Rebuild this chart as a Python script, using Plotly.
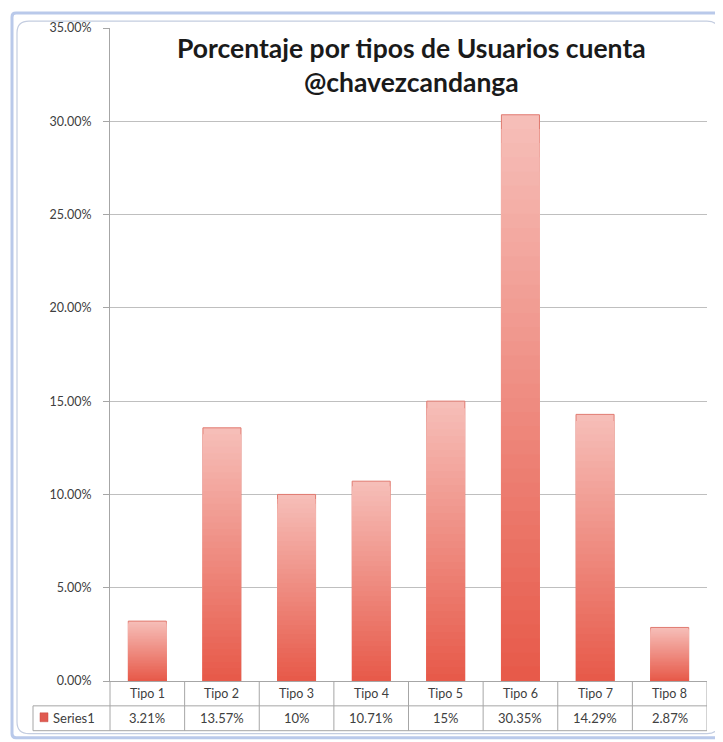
import plotly.graph_objects as go

categories = ["Tipo 1", "Tipo 2", "Tipo 3", "Tipo 4", "Tipo 5", "Tipo 6", "Tipo 7", "Tipo 8"]
values_pct = [3.21, 13.57, 10, 10.71, 15, 30.35, 14.29, 2.87]
series_name = "Series1"
title_lines = ["Porcentaje por tipos de Usuarios cuenta", "@chavezcandanga"]
y_ticks = [0, 0.05, 0.10, 0.15, 0.20, 0.25, 0.30, 0.35]

# page body has an 8px default margin; work in page pixels and offset
OFF = 8
W, H = 723 - OFF, 742 - OFF
ML, MR, MT, MB = 110 - OFF, 16, 24 - OFF, 61
PW, PH = W - ML - MR, H - MT - MB


def px_x(px):
    return (px - OFF - ML) / PW


def px_y(py):
    return (H - MB - (py - OFF)) / PH


def lerp(c1, c2, t):
    return "#%02x%02x%02x" % tuple(int(round(a + (b - a) * t)) for a, b in zip(c1, c2))


TOP = (246, 190, 184)
BOTTOM = (231, 90, 74)
N = 40

vals = [v / 100 for v in values_pct]
xs = list(range(len(categories)))

fig = go.Figure()
for k in range(N):
    frac = 1 - k / N
    t = k / (N - 1)
    fig.add_trace(go.Bar(
        x=xs, y=[v * frac for v in vals], width=0.51,
        marker=dict(color=lerp(TOP, BOTTOM, t),
                    line=dict(color="#e07a70" if k == 0 else "rgba(0,0,0,0)", width=1 if k == 0 else 0)),
        showlegend=False, hoverinfo="skip" if k else None,
        name=series_name,
    ))

shapes = []
LC = "#a6a6a6"
y_r1 = px_y(706)
y_r2 = px_y(731)
shapes.append(dict(type="line", xref="paper", yref="paper", x0=px_x(33), x1=1, y0=y_r1, y1=y_r1, line=dict(color=LC, width=1)))
shapes.append(dict(type="line", xref="paper", yref="paper", x0=px_x(33), x1=1, y0=y_r2, y1=y_r2, line=dict(color=LC, width=1)))
shapes.append(dict(type="line", xref="paper", yref="paper", x0=0, x1=0, y0=0, y1=y_r2, line=dict(color=LC, width=1)))
shapes.append(dict(type="line", xref="paper", yref="paper", x0=px_x(33), x1=px_x(33), y0=y_r1, y1=y_r2, line=dict(color=LC, width=1)))
for i in xs:
    shapes.append(dict(type="line", xref="x", yref="paper", x0=i + 0.5, x1=i + 0.5, y0=0, y1=y_r2, line=dict(color=LC, width=1)))
shapes.append(dict(type="rect", xref="paper", yref="paper", x0=px_x(40), x1=px_x(48), y0=px_y(722), y1=px_y(713),
                   fillcolor="#e05a50", line=dict(color="#c84a40", width=0.5)))


def rounded(x0, y0, x1, y1, r):
    X = lambda p: px_x(p)
    Y = lambda p: px_y(p)
    return (f"M {X(x0 + r)},{Y(y0)} L {X(x1 - r)},{Y(y0)} Q {X(x1)},{Y(y0)} {X(x1)},{Y(y0 + r)} "
            f"L {X(x1)},{Y(y1 - r)} Q {X(x1)},{Y(y1)} {X(x1 - r)},{Y(y1)} "
            f"L {X(x0 + r)},{Y(y1)} Q {X(x0)},{Y(y1)} {X(x0)},{Y(y1 - r)} "
            f"L {X(x0)},{Y(y0 + r)} Q {X(x0)},{Y(y0)} {X(x0 + r)},{Y(y0)} Z")


shapes.append(dict(type="path", xref="paper", yref="paper", path=rounded(12, 9, 745, 738, 4),
                   line=dict(color="#b9c9ea", width=3), layer="below"))
shapes.append(dict(type="path", xref="paper", yref="paper", path=rounded(17, 17, 719, 734, 12),
                   line=dict(color="#c4cde0", width=1.2), layer="below"))

annotations = []
FONT = "Lato, Liberation Sans, sans-serif"
for i, c in enumerate(categories):
    annotations.append(dict(x=i, xref="x", y=px_y(693.5), yref="paper", text=c, showarrow=False,
                            font=dict(family=FONT, size=12.5, color="#404040"), xanchor="center", yanchor="middle"))
    annotations.append(dict(x=i, xref="x", y=px_y(718.5), yref="paper", text=f"{values_pct[i]:g}%", showarrow=False,
                            font=dict(family=FONT, size=13, color="#404040"), xanchor="center", yanchor="middle"))
annotations.append(dict(x=px_x(51), xref="paper", y=px_y(718.5), yref="paper", text=series_name, showarrow=False,
                        font=dict(family=FONT, size=13, color="#404040"), xanchor="left", yanchor="middle"))
annotations.append(dict(x=px_x(411), xref="paper", y=px_y(61), yref="paper", text="<br>".join(title_lines), showarrow=False,
                        font=dict(family=FONT, size=26.5, color="#1a1a1a", weight="bold"), xanchor="center",
                        yanchor="middle", align="center"))

fig.update_layout(
    width=W, height=H,
    margin=dict(l=ML, r=MR, t=MT, b=MB),
    paper_bgcolor="white", plot_bgcolor="white",
    barmode="overlay",
    showlegend=False,
    shapes=shapes, annotations=annotations,
    xaxis=dict(range=[-0.5, len(categories) - 0.5], showticklabels=False, showgrid=False,
               showline=True, linecolor=LC, linewidth=1, zeroline=False, fixedrange=True),
    yaxis=dict(range=[0, 0.35], tickvals=y_ticks, tickformat=".2%", showgrid=True, gridcolor="#bfbfbf",
               gridwidth=1, showline=True, linecolor=LC, linewidth=1, zeroline=False,
               ticks="outside", ticklen=6, tickcolor=LC, ticklabelstandoff=9,
               tickfont=dict(family=FONT, size=12.5, color="#404040")),
)

fig.write_html("out.html")
